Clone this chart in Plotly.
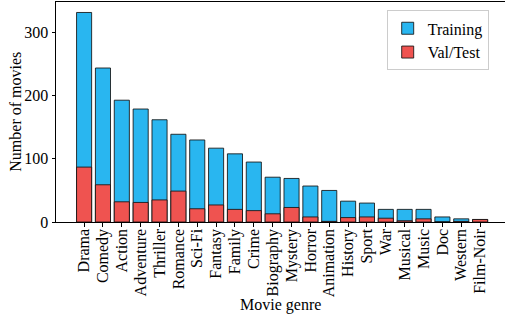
import plotly.graph_objects as go

genres = ["Drama", "Comedy", "Action", "Adventure", "Thriller", "Romance", "Sci-Fi",
          "Fantasy", "Family", "Crime", "Biography", "Mystery", "Horror", "Animation",
          "History", "Sport", "War", "Musical", "Music", "Doc", "Western", "Film-Noir"]
total_counts = [332, 244, 193, 179, 162, 139, 130, 117, 108, 95, 71, 69, 57, 50,
                33, 30, 20, 20, 20, 8, 5, 4]
valtest_counts = [87, 59, 32, 31, 35, 49, 21, 27, 20, 18, 13, 23, 8, 1,
                  7, 8, 6, 2, 5, 0, 1, 4]

font_family = "Liberation Serif"
blue = "#29b6f0"
red = "#ef5350"
edge = "rgba(20,20,20,0.85)"

fig = go.Figure()
fig.add_trace(go.Bar(x=list(range(len(genres))), y=total_counts, name="Training",
                     marker=dict(color=blue, line=dict(color=edge, width=1)), width=0.8))
fig.add_trace(go.Bar(x=list(range(len(genres))), y=valtest_counts, name="Val/Test",
                     marker=dict(color=red, line=dict(color=edge, width=1)), width=0.8))

fig.update_layout(
    width=505, height=317,
    margin=dict(l=56, r=0, t=2, b=95),
    barmode="overlay",
    plot_bgcolor="white", paper_bgcolor="white",
    font=dict(family=font_family, size=16, color="black"),
    showlegend=True,
    legend=dict(x=0.7365, y=0.962, xanchor="left", yanchor="top",
                bordercolor="#cccccc", borderwidth=1, bgcolor="rgba(255,255,255,0.8)",
                font=dict(family=font_family, size=16), tracegroupgap=0),
    xaxis=dict(
        tickmode="array", tickvals=list(range(len(genres))), ticktext=genres,
        tickangle=-90, range=[-1.49, 22.32], automargin=False,
        tickfont=dict(family=font_family, size=16), ticklabelstandoff=-4,
        showline=True, linecolor="black", linewidth=1, mirror=True,
        ticks="outside", ticklen=3.5, tickcolor="black",
        showgrid=False, zeroline=False,
    ),
    yaxis=dict(
        range=[0, 348.6], tickvals=[0, 100, 200, 300], automargin=False,
        tickfont=dict(family=font_family, size=16),
        showline=True, linecolor="black", linewidth=1,
        ticks="outside", ticklen=3.5, tickcolor="black",
        showgrid=False, zeroline=False,
    ),
    annotations=[
        dict(text="Movie genre", xref="paper", yref="paper", x=0.5, y=-0.375,
             xanchor="center", yanchor="middle", showarrow=False,
             font=dict(family=font_family, size=16)),
        dict(text="Number of movies", xref="paper", yref="paper", x=-0.092, y=0.5,
             xanchor="center", yanchor="middle", showarrow=False, textangle=-90,
             font=dict(family=font_family, size=16)),
    ],
)

fig.write_html("out.html", config={"displayModeBar": False},
               post_script="document.body.style.margin='0';")
